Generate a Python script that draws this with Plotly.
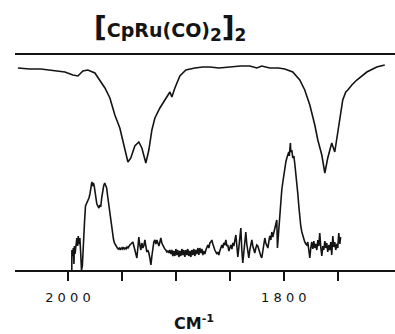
import plotly.graph_objects as go

# ---- data (wavenumber cm^-1, relative intensity) ----
top_wn = [2046.3, 2035.2, 2025.0, 2016.7, 2008.0, 2002.8, 1995.4, 1990.7, 1986.1, 1981.5, 1975.0,
          1970.4, 1965.7, 1961.1, 1956.5, 1951.9, 1948.1, 1944.4, 1941.7, 1938.0, 1934.3,
          1931.5, 1927.8, 1925.0, 1922.2, 1919.4, 1914.8, 1910.2, 1905.5, 1903.7, 1900.9,
          1896.3, 1890.7, 1882.4, 1875.0, 1868.5, 1860.0, 1850.0, 1840.0, 1831.5, 1825.0,
          1820.4, 1813.0, 1805.0, 1799.1, 1791.7, 1785.2, 1780.6, 1775.9, 1771.3, 1768.5,
          1764.8, 1762.0, 1759.3, 1755.6, 1752.8, 1750.0, 1748.1, 1745.4, 1742.6, 1740.7,
          1737.0, 1732.4, 1723.1, 1713.9, 1706.5]
top_val = [202, 201, 201, 200, 199, 198, 195, 194, 199, 200, 197,
           190, 182, 172, 155, 142, 125, 108, 112, 124, 128,
           122, 107, 120, 140, 152, 162, 170, 178, 173, 182,
           194, 200, 202, 203, 203, 202, 203, 204, 204, 202,
           204, 202, 202, 201, 198, 190, 180, 165, 145, 130,
           115, 97, 112, 127, 118, 137, 152, 170, 178, 180,
           185, 190, 198, 203, 205]

bot_wn = [1996.4, 1996.3, 1995.6, 1995.0, 1994.4, 1994.0, 1993.4, 1992.6, 1991.7, 1991.0,
          1990.4, 1989.8, 1988.9, 1988.2, 1987.4, 1986.6, 1985.9, 1985.2, 1984.6, 1983.7,
          1982.4, 1981.5, 1980.5, 1979.6, 1978.7, 1977.8, 1977.0, 1976.3, 1975.5, 1975.0,
          1974.1, 1973.2, 1972.3, 1971.3, 1970.5, 1969.6, 1968.7, 1967.8, 1966.9, 1965.9,
          1965.0, 1964.1, 1963.2, 1962.3, 1961.4, 1960.6, 1959.6, 1958.7, 1957.8, 1956.9,
          1956.0, 1955.1, 1954.2, 1953.3, 1952.4, 1951.5, 1950.6, 1949.7, 1948.8, 1947.9,
          1947.0, 1946.1, 1945.2, 1944.3, 1943.4, 1942.6, 1941.7, 1940.8, 1939.8, 1938.9,
          1938.0, 1937.0, 1936.1, 1935.2, 1934.3, 1933.4, 1932.4, 1931.5, 1930.6, 1929.7,
          1928.7, 1927.8, 1926.9, 1926.0, 1925.0, 1924.1, 1923.1, 1922.2, 1921.3, 1920.4,
          1919.4, 1918.5, 1917.6, 1916.7, 1915.7, 1914.8, 1913.9, 1913.0, 1912.0, 1911.1,
          1910.2, 1909.3, 1908.3, 1907.4, 1906.5, 1905.6, 1904.6, 1903.7, 1902.8, 1901.9,
          1900.9, 1900.0, 1899.1, 1898.2, 1897.2, 1896.3, 1895.4, 1894.4, 1893.5, 1892.6,
          1891.7, 1890.7, 1889.8, 1888.9, 1888.0, 1887.0, 1886.1, 1885.2, 1884.3, 1883.3,
          1882.4, 1881.5, 1880.6, 1879.6, 1878.7, 1877.8, 1876.9, 1875.9, 1875.0, 1874.1,
          1873.1, 1872.2, 1871.3, 1870.4, 1869.4, 1868.5, 1867.6, 1866.7, 1865.7, 1864.8,
          1863.9, 1863.0, 1862.0, 1861.1, 1860.2, 1859.3, 1858.3, 1857.4, 1856.5, 1855.6,
          1854.6, 1853.7, 1852.8, 1851.9, 1850.9, 1850.0, 1849.1, 1848.1, 1847.2, 1846.3,
          1845.4, 1844.4, 1843.5, 1842.6, 1841.7, 1840.7, 1839.8, 1838.9, 1838.0, 1837.0,
          1836.1, 1835.2, 1834.3, 1833.3, 1832.4, 1831.5, 1830.6, 1829.6, 1828.7, 1827.8,
          1826.9, 1825.9, 1825.0, 1824.1, 1823.1, 1822.2, 1821.3, 1820.4, 1819.4, 1818.5,
          1817.6, 1816.7, 1815.7, 1814.8, 1813.9, 1813.0, 1812.0, 1811.1, 1810.2, 1809.3,
          1808.3, 1807.4, 1806.5, 1805.9, 1805.4, 1804.6, 1803.7, 1802.8, 1801.9, 1800.9,
          1800.0, 1799.1, 1798.1, 1797.2, 1796.3, 1795.4, 1794.9, 1794.4, 1793.9, 1793.5,
          1792.6, 1791.7, 1790.7, 1789.8, 1788.9, 1788.0, 1787.0, 1786.1, 1785.2, 1784.3,
          1783.3, 1782.4, 1781.5, 1780.6, 1779.6, 1778.7, 1777.8, 1776.9, 1775.9, 1775.0,
          1774.1, 1773.1, 1772.2, 1771.3, 1770.4, 1769.4, 1768.5, 1767.6, 1766.7, 1765.7,
          1764.8, 1763.9, 1763.0, 1762.0, 1761.1, 1760.2, 1759.3, 1758.3, 1757.4, 1756.5,
          1755.6, 1754.6, 1753.7, 1752.8, 1751.9, 1750.9, 1750.0, 1749.1, 1748.1, 1747.4]
bot_val = [0, 20, 14, 22, 6, 24, 16, 28, 32, 24,
           34, 26, 32, 18, 0, 4, 26, 30, 48, 64,
           67, 69, 72, 76, 82, 88, 84, 87, 83, 78,
           72, 66, 64, 62, 65, 63, 72, 80, 84, 87,
           85, 82, 74, 66, 58, 52, 46, 38, 31, 27,
           25, 23, 22, 21, 22, 20, 22, 21, 23, 21,
           22, 21, 23, 22, 24, 25, 26, 27, 28, 24,
           20, 14, 12, 22, 33, 25, 20, 27, 22, 24,
           30, 24, 18, 20, 17, 12, 5, 14, 25, 28,
           30, 26, 30, 27, 24, 28, 32, 27, 25, 22,
           21, 20, 18, 19, 17, 20, 16, 20, 14, 19,
           14, 21, 15, 20, 13, 19, 14, 21, 15, 20,
           13, 20, 15, 21, 14, 19, 13, 20, 15, 21,
           14, 20, 16, 22, 15, 22, 17, 21, 15, 19,
           16, 20, 23, 25, 22, 27, 28, 30, 26, 22,
           20, 18, 16, 18, 15, 19, 22, 25, 22, 27,
           25, 30, 24, 25, 19, 22, 25, 21, 27, 24,
           30, 35, 24, 13, 22, 34, 42, 20, 7, 18,
           30, 38, 26, 18, 12, 20, 26, 30, 24, 19,
           17, 22, 25, 24, 20, 16, 14, 12, 18, 26,
           32, 27, 24, 22, 28, 34, 30, 38, 33, 37,
           42, 48, 50, 22, 30, 45, 57, 68, 80, 88,
           95, 103, 108, 112, 116, 118, 114, 122, 127, 118,
           120, 112, 114, 106, 98, 88, 76, 64, 52, 44,
           38, 34, 32, 28, 26, 25, 28, 20, 12, 22,
           28, 21, 29, 22, 26, 20, 30, 24, 37, 22,
           14, 24, 20, 29, 22, 27, 18, 25, 20, 28,
           15, 34, 23, 28, 20, 26, 22, 37, 26, 33]

tick_vals = [2000, 1950, 1900, 1850, 1800, 1750]
tick_text = ["2 0 0 0", "", "", "", "1 8 0 0", ""]

ink = "#141414"
fig = go.Figure()
fig.add_trace(go.Scatter(x=top_wn, y=top_val, mode="lines",
                         line=dict(color=ink, width=1.6), hoverinfo="skip"))
fig.add_trace(go.Scatter(x=bot_wn, y=bot_val, mode="lines",
                         line=dict(color=ink, width=1.6), hoverinfo="skip"))

fig.update_layout(
    width=395, height=334, autosize=False,
    margin=dict(l=15, r=0, t=55, b=64),
    paper_bgcolor="white", plot_bgcolor="white",
    showlegend=False,
    font=dict(family="DejaVu Sans", color=ink),
    xaxis=dict(range=[2049, 1697], showgrid=False, zeroline=False,
               showline=True, linecolor=ink, linewidth=2, mirror=True,
               ticks="outside", ticklen=9, tickwidth=2, tickcolor=ink,
               tickvals=tick_vals, ticktext=tick_text,
               tickfont=dict(size=13, family="DejaVu Sans", color=ink),
               ticklabelstandoff=5),
    yaxis=dict(range=[0, 215], visible=False),
    annotations=[
        dict(xref="paper", yref="paper", x=0.408, y=1.126, showarrow=False,
             xanchor="center", yanchor="middle",
             text="<span style='font-size:28px'>[</span>CpRu(CO)<sub><span style='font-size:17px'>2</span></sub><span style='font-size:28px'>]</span><sub><span style='font-size:17px'>2</span></sub>",
             font=dict(size=19, family="DejaVu Sans", color=ink, weight="bold")),
        dict(xref="paper", yref="paper", x=0.47, y=-0.242, showarrow=False,
             xanchor="center", yanchor="middle",
             text="CM<sup>-1</sup>",
             font=dict(size=16, family="DejaVu Sans", color=ink, weight="bold")),
    ],
)

post = ("document.documentElement.style.margin='0';"
        "document.body.style.margin='0';document.body.style.padding='0';"
        "document.body.style.overflow='hidden';")
fig.write_html("out.html", config={"responsive": False, "displayModeBar": False},
               post_script=post)
